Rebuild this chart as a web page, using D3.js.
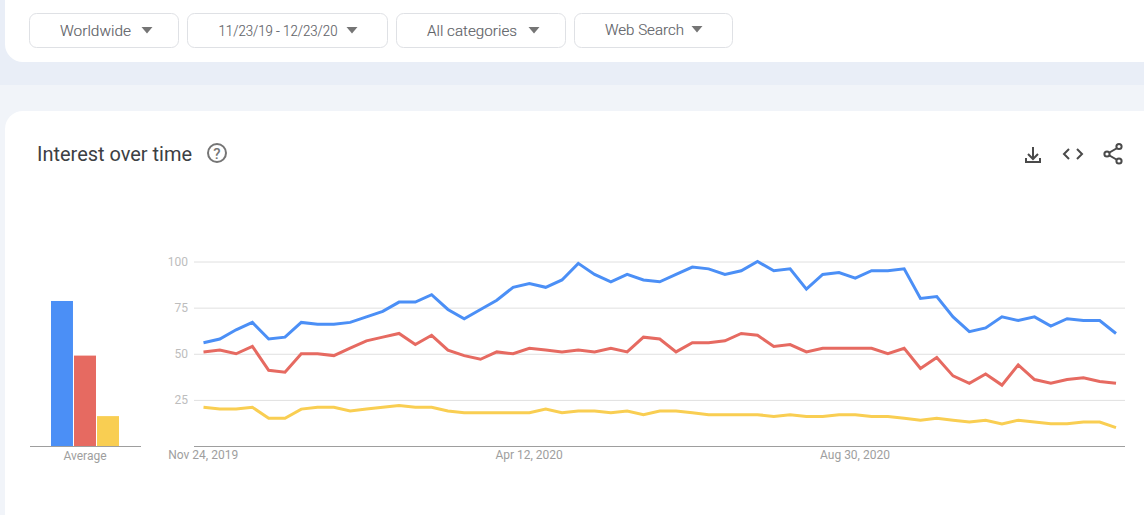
<!DOCTYPE html>
<html>
<head>
<meta charset="utf-8">
<script src="https://cdn.jsdelivr.net/npm/d3@7/dist/d3.min.js"></script>
<style>
html,body{margin:0;padding:0;background:#fff;overflow:hidden}
svg{display:block}
text{font-family:Roboto,sans-serif}
</style>
</head>
<body>
<svg id="c" width="1144" height="515"></svg>
<script>
const filters = ["Worldwide", "11/23/19 - 12/23/20", "All categories", "Web Search"];
const title = "Interest over time";
const yTicks = [25, 50, 75, 100];
const xTickIndex = [0, 20, 40];
const xTickLabels = ["Nov 24, 2019", "Apr 12, 2020", "Aug 30, 2020"];
const averageLabel = "Average";
const averages = [78.6, 49, 16.2];
const colors = ["#4b8ff6", "#e66a61", "#f9ce52"];
const blue = [56,58,63,67,58,59,67,66,66,67,70,73,78,78,82,74,69,74,79,86,88,86,90,99,93,89,93,90,89,93,97,96,93,95,100,95,96,85,93,94,91,95,95,96,80,81,70,62,64,70,68,70,65,69,68,68,61];
const red = [51,52,50,54,41,40,50,50,49,53,57,59,61,55,60,52,49,47,51,50,53,52,51,52,51,53,51,59,58,51,56,56,57,61,60,54,55,51,53,53,53,53,50,53,42,48,38,34,39,33,44,36,34,36,37,35,34];
const yellow = [21,20,20,21,15,15,20,21,21,19,20,21,22,21,21,19,18,18,18,18,18,20,18,19,19,18,19,17,19,19,18,17,17,17,17,16,17,16,16,17,17,16,16,15,14,15,14,13,14,12,14,13,12,12,13,13,10];

const svg = d3.select("#c");
svg.append("rect").attr("width",1144).attr("height",515).attr("fill","#fff");

// page chrome
svg.append("rect").attr("x",0).attr("y",0).attr("width",1144).attr("height",85).attr("fill","#e9eef7");
svg.append("rect").attr("x",0).attr("y",85).attr("width",1144).attr("height",430).attr("fill","#f1f4f9");
svg.append("path").attr("d","M5,0H1144V62H23A18,18 0 0 1 5,44Z").attr("fill","#fff");
svg.append("path").attr("d","M5,515V129A18,18 0 0 1 23,111H1144V515Z").attr("fill","#fff");

// filter buttons
const btnX = [29,187,396,574], btnW = [150,201,170,159];
const txtX = [60,218.5,427,605], txtW = [71,119,90,79], triX = [147,352,534,697], txtY=[36,36,36,35];
filters.forEach((f,i)=>{
  svg.append("rect").attr("x",btnX[i]+.5).attr("y",13.5).attr("width",btnW[i]-1).attr("height",34)
    .attr("rx",7).attr("fill","#fff").attr("stroke","#dfe1e5");
  svg.append("text").attr("x",txtX[i]).attr("y",txtY[i])
    .attr("textLength",txtW[i]).attr("lengthAdjust","spacingAndGlyphs")
    .attr("font-size",15).attr("fill","#5f6368").style("font-weight",300).style("stroke","#5f6368").style("stroke-width",.15).text(f);
  const t=triX[i], y=txtY[i]-9;
  svg.append("path").attr("d",`M${t-5.5},${y}H${t+5.5}L${t},${y+6.5}Z`).attr("fill","#757575");
});

// title and help
svg.append("text").attr("x",37).attr("y",161).attr("font-size",20).attr("textLength",155).attr("lengthAdjust","spacingAndGlyphs")
  .attr("fill","#3c4043").style("font-weight",400).text(title);
svg.append("circle").attr("cx",217).attr("cy",153).attr("r",9).attr("fill","none").attr("stroke","#757575").attr("stroke-width",2);
svg.append("text").attr("x",217).attr("y",158.5).attr("text-anchor","middle").attr("font-size",15).attr("font-weight",500).attr("fill","#757575").text("?");

// toolbar icons
const ic = svg.append("g").attr("fill","none").attr("stroke","#4a4a4a").attr("stroke-width",2);
ic.append("path").attr("d","M1033,147V159M1028,154L1033,159L1038,154M1026,158V162H1040V158");
ic.append("path").attr("d","M1069,149L1064,154L1069,159M1077,149L1082,154L1077,159");
ic.append("path").attr("d","M1119,147L1107,154L1119,161");
[[1119,146.5],[1107,154],[1119,161]].forEach(p=>ic.append("circle").attr("cx",p[0]).attr("cy",p[1]).attr("r",2.6).attr("fill","#fff"));

// scales
const y = d3.scaleLinear().domain([0,100]).range([446,261.5]);
const x = d3.scaleLinear().domain([0,blue.length-1]).range([203.5,1116]);

// gridlines and y axis
const yAxis = svg.append("g").attr("transform","translate(194,0)")
  .call(d3.axisLeft(y).tickValues(yTicks).tickSize(0).tickPadding(6));
yAxis.select(".domain").remove();
yAxis.selectAll("text").attr("font-size",12).attr("fill","#bdbdbd").style("font-family","Roboto,sans-serif");
yAxis.selectAll(".tick").append("line").attr("x1",0).attr("x2",931).attr("stroke","#e0e0e0").attr("stroke-width",1);

// x axis
const xAxis = svg.append("g").attr("transform","translate(-0.8,446)")
  .call(d3.axisBottom(x).tickValues(xTickIndex).tickFormat((d,i)=>xTickLabels[i]).tickSize(0).tickPadding(4));
xAxis.select(".domain").remove();
xAxis.selectAll("text").attr("font-size",12).attr("fill","#9e9e9e").style("font-family","Roboto,sans-serif");
svg.append("line").attr("x1",194).attr("x2",1125).attr("y1",446.5).attr("y2",446.5).attr("stroke","#9e9e9e");

// lines
const line = d3.line().x((d,i)=>x(i)).y(d=>y(d));
[blue,red,yellow].forEach((s,i)=>{
  svg.append("path").datum(s).attr("d",line).attr("fill","none").attr("stroke",colors[i])
    .attr("stroke-width",3).attr("stroke-linejoin","miter");
});

// average bars
const bx = d3.scaleBand().domain(d3.range(3)).range([51,119]).paddingInner(0.045);
svg.selectAll("rect.avg").data(averages).enter().append("rect").attr("class","avg")
  .attr("x",(d,i)=>bx(i)).attr("width",bx.bandwidth()).attr("y",d=>y(d)).attr("height",d=>446-y(d)).attr("fill",(d,i)=>colors[i]);
svg.append("line").attr("x1",30).attr("x2",141).attr("y1",446.5).attr("y2",446.5).attr("stroke","#9e9e9e");
svg.append("text").attr("x",85).attr("y",460).attr("text-anchor","middle").attr("font-size",12).attr("fill","#9e9e9e").text(averageLabel);
</script>
</body>
</html>
